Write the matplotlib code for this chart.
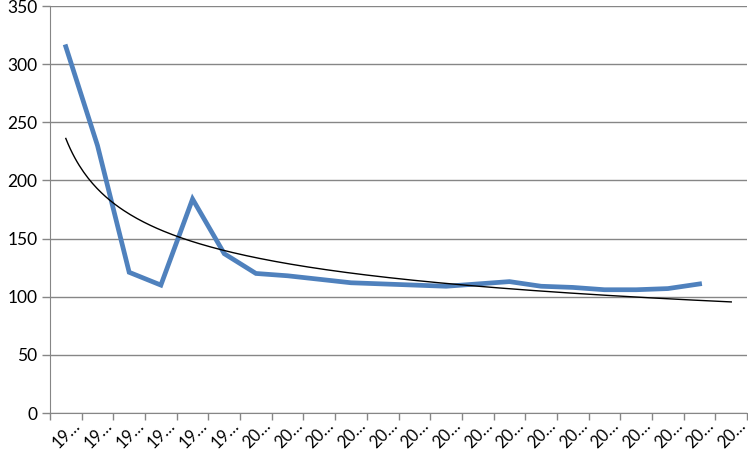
import numpy as np
import matplotlib.pyplot as plt

plt.rcParams['font.family'] = ['Lato', 'DejaVu Sans']

# 22 categories (labels truncated as in the source), 21 values
labels = ["19…"] * 6 + ["20…"] * 16
values = [315, 230, 121, 110, 184, 137, 120, 118, 115, 112, 111,
          110, 109, 111, 113, 109, 108, 106, 106, 107, 111]

grid_color = "#868686"

fig = plt.figure(figsize=(7.48, 4.55), dpi=100)
ax = fig.add_axes([0.0668, 0.0923, 0.932, 0.8945])

x = np.arange(len(values))
ax.plot(x, values, color="#4F81BD", lw=3.4, solid_joinstyle="miter", zorder=3)

# power trend line, fitted on the series and carried one category further
b, lna = np.polyfit(np.log(np.arange(1, len(values) + 1)), np.log(values), 1)
xs = np.linspace(1, len(labels), 300)
trend = np.exp(lna) * xs ** b
ax.plot(xs - 1, trend, color="black", lw=1.0, zorder=4)

ax.set_ylim(0, 350)
ax.set_yticks(np.arange(0, 351, 50))
ax.set_xlim(-0.5, len(labels) - 0.5)
ax.set_xticks(np.arange(len(labels) + 1) - 0.5)
ax.set_xticklabels([])
# labels sit a bit right of the category centre, like the source
ax.set_xticks(np.arange(len(labels)) + 0.2, minor=True)
ax.set_xticklabels(labels, minor=True, rotation=45, ha="right",
                   rotation_mode="anchor", fontsize=12)
ax.tick_params(axis="x", which="minor", length=0, pad=3)
ax.tick_params(axis="x", which="major", length=5, color=grid_color, width=1)
ax.tick_params(axis="y", length=6, color=grid_color, width=1, labelsize=12.5, pad=3)

ax.yaxis.grid(True, color=grid_color, lw=1)
ax.set_axisbelow(True)
for s in ["top", "right"]:
    ax.spines[s].set_visible(False)
ax.spines["left"].set_color(grid_color)
ax.spines["bottom"].set_color(grid_color)

fig.savefig("out.png", dpi=100)
